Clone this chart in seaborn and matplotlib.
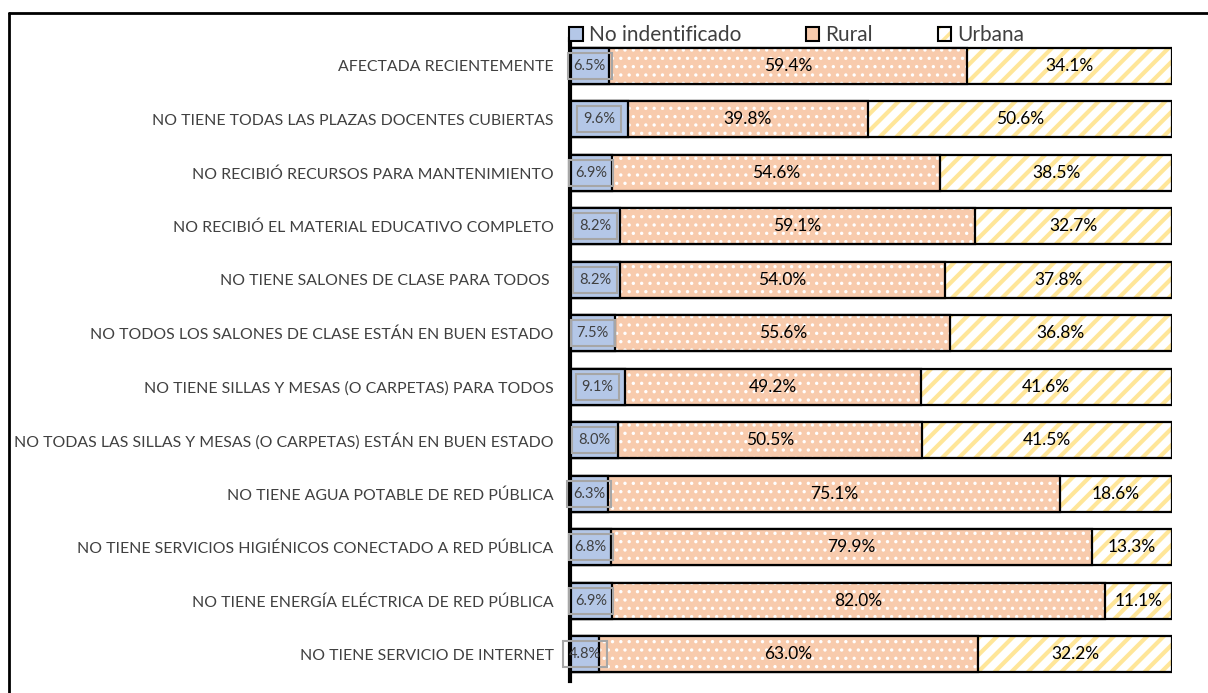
import numpy as np
import pandas as pd
import matplotlib
matplotlib.use("Agg")
import matplotlib.pyplot as plt
import seaborn as sns
from matplotlib.patches import Patch
from matplotlib.lines import Line2D
from matplotlib.colors import to_rgba

categories = [
    "AFECTADA RECIENTEMENTE",
    "NO TIENE TODAS LAS PLAZAS DOCENTES CUBIERTAS",
    "NO RECIBIÓ RECURSOS PARA MANTENIMIENTO",
    "NO RECIBIÓ EL MATERIAL EDUCATIVO COMPLETO",
    "NO TIENE SALONES DE CLASE PARA TODOS ",
    "NO TODOS LOS SALONES DE CLASE ESTÁN EN BUEN ESTADO",
    "NO TIENE SILLAS Y MESAS (O CARPETAS) PARA TODOS",
    "NO TODAS LAS SILLAS Y MESAS (O CARPETAS) ESTÁN EN BUEN ESTADO",
    "NO TIENE AGUA POTABLE DE RED PÚBLICA",
    "NO TIENE SERVICIOS HIGIÉNICOS CONECTADO A RED PÚBLICA",
    "NO TIENE ENERGÍA ELÉCTRICA DE RED PÚBLICA",
    "NO TIENE SERVICIO DE INTERNET",
]
no_ident = [6.5, 9.6, 6.9, 8.2, 8.2, 7.5, 9.1, 8.0, 6.3, 6.8, 6.9, 4.8]
rural = [59.4, 39.8, 54.6, 59.1, 54.0, 55.6, 49.2, 50.5, 75.1, 79.9, 82.0, 63.0]
urbana = [34.1, 50.6, 38.5, 32.7, 37.8, 36.8, 41.6, 41.5, 18.6, 13.3, 11.1, 32.2]
series_names = ["No indentificado", "Rural", "Urbana"]

BLUE = "#B4C7E7"
SALMON = "#F8CBAD"
YELLOW = "#FFE699"
GREY_TXT = "#404040"

sns.set_style("white")
plt.rcParams["font.family"] = ["Lato", "DejaVu Sans"]
plt.rcParams["hatch.linewidth"] = 2.5

df = pd.DataFrame({"cat": categories, "blue": no_ident, "rural": rural, "urbana": urbana})
df["c1"] = df["blue"]
df["c2"] = df["blue"] + df["rural"]
df["c3"] = df["c2"] + df["urbana"]

fig = plt.figure(figsize=(12.08, 6.93), dpi=100)
ax = fig.add_axes([0.472, 0.0173, 0.4983, 0.9264])


def set_hatch(p, hatch, hcolor, hlw):
    p.set_hatch(hatch)
    p._hatch_color = to_rgba(hcolor)
    if hasattr(p, "set_hatch_linewidth"):
        p.set_hatch_linewidth(hlw)
    else:
        p._hatch_linewidth = hlw


def layer(col, face, hatch=None, hcolor=None, hlw=2.5):
    n = len(ax.patches)
    sns.barplot(data=df, x=col, y="cat", orient="h", color=face, saturation=1,
                width=0.68, edgecolor="black", linewidth=1.6, ax=ax)
    for p in ax.patches[n:]:
        p.set_facecolor(face)
        if hatch:
            set_hatch(p, hatch, hcolor, hlw)


# stacked by overlaying cumulative totals
layer("c3", "white", "//", YELLOW, 3.0)
layer("c2", SALMON, "..", "white", 1.2)
layer("c1", BLUE)

for i, r in df.iterrows():
    ax.text(r.c1 / 2, i, f"{r.blue:.1f}%", ha="center", va="center", fontsize=10.5,
            color=GREY_TXT,
            bbox=dict(boxstyle="square,pad=0.4", fc="none", ec="#A6A6A6", lw=1.5))
    ax.text(r.c1 + r.rural / 2, i, f"{r.rural:.1f}%", ha="center", va="center",
            fontsize=12.5, color="black")
    ax.text(r.c2 + r.urbana / 2, i, f"{r.urbana:.1f}%", ha="center", va="center",
            fontsize=12.5, color="black")

ax.set_xlim(0, 100)
ax.set_ylim(len(categories) - 0.5, -0.5)
ax.set_xticks([])
ax.set_xlabel("")
ax.set_ylabel("")
ax.tick_params(axis="y", length=0, pad=12, labelsize=11.4, labelcolor=GREY_TXT)
for s in ["top", "right", "bottom"]:
    ax.spines[s].set_visible(False)
ax.spines["left"].set_linewidth(3)
ax.spines["left"].set_color("black")
ax.set_zorder(2)

handles = [
    Patch(facecolor=BLUE, edgecolor="black", linewidth=1.5),
    Patch(facecolor=SALMON, edgecolor="black", linewidth=1.5),
    Patch(facecolor="white", edgecolor="black", linewidth=1.5, hatch="//"),
]
handles[2]._hatch_color = to_rgba(YELLOW)
leg = fig.legend(handles, series_names, loc="center left",
                 bbox_to_anchor=(569 / 1208, 1 - 35 / 693), ncol=3, frameon=False,
                 fontsize=15, handlelength=0.65, handleheight=0.65, handletextpad=0.3,
                 columnspacing=3.1, borderaxespad=0, borderpad=0)
for t in leg.get_texts():
    t.set_color(GREY_TXT)

# outer chart frame (left and top edges)
fig.add_artist(Line2D([0.0075, 0.0075], [0, 0.981], transform=fig.transFigure,
                      color="black", lw=2))
fig.add_artist(Line2D([0.0075, 1], [0.981, 0.981], transform=fig.transFigure,
                      color="black", lw=2))

fig.savefig("out.png", dpi=100)
